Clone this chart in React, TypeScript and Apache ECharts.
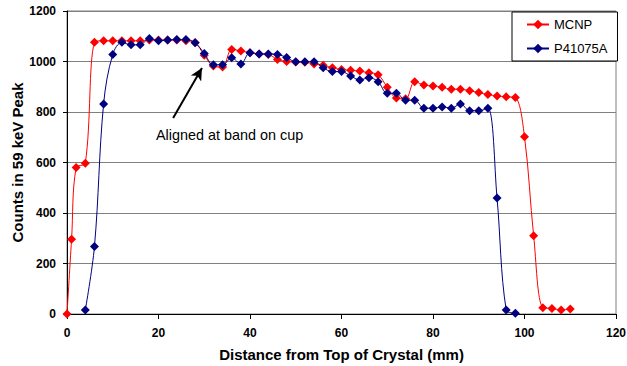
import React, { useEffect, useRef } from "react";
import * as echarts from "echarts";

const mcnpX = [0, 1, 2, 4, 6, 8, 10, 12, 14, 16, 18, 20, 22, 24, 26, 28, 30, 32, 34, 36, 38, 40, 42, 44, 46, 48, 50, 52, 54, 56, 58, 60, 62, 64, 66, 68, 70, 72, 74, 76, 78, 80, 82, 84, 86, 88, 90, 92, 94, 96, 98, 100, 102, 104, 106, 108, 110];
const mcnpY = [0, 296, 580, 597, 1076, 1082, 1082, 1082, 1082, 1082, 1085, 1085, 1085, 1085, 1082, 1075, 1025, 982, 978, 1048, 1042, 1035, 1030, 1028, 1008, 1000, 998, 997, 990, 985, 975, 968, 965, 962, 955, 948, 898, 855, 852, 920, 907, 903, 898, 890, 890, 884, 877, 869, 863, 860, 857, 702, 310, 25, 22, 16, 20];

const p41X = [4, 6, 8, 10, 12, 14, 16, 18, 20, 22, 24, 26, 28, 30, 32, 34, 36, 38, 40, 42, 44, 46, 48, 50, 52, 54, 56, 58, 60, 62, 64, 66, 68, 70, 72, 74, 76, 78, 80, 82, 84, 86, 88, 90, 92, 94, 96, 98];
const p41Y = [16, 267, 832, 1028, 1076, 1066, 1066, 1091, 1082, 1085, 1087, 1087, 1074, 1032, 987, 987, 1015, 990, 1035, 1030, 1030, 1028, 1016, 999, 999, 999, 975, 960, 960, 943, 927, 936, 920, 874, 874, 847, 847, 815, 815, 820, 815, 832, 805, 805, 815, 459, 16, 3];

const seriesNames = ["MCNP", "P41075A"];
const annotationText = "Aligned at band on cup";
const arrowFrom = [23.2, 776];
const arrowTo = [29.5, 974];

const FONT = "'Liberation Sans', Arial, sans-serif";

export default function App() {
  const ref = useRef<HTMLDivElement>(null);
  useEffect(() => {
    if (!ref.current) return;
    const chart = echarts.init(ref.current, null, { renderer: "svg" });
    chart.setOption({
      animation: false,
      backgroundColor: "#ffffff",
      textStyle: { fontFamily: FONT },
      grid: {
        left: 67,
        right: 11,
        top: 11,
        bottom: 52,
        show: true,
        borderColor: "#808080",
        borderWidth: 1,
        containLabel: false,
        outerBoundsMode: "none",
      },
      legend: {
        orient: "vertical",
        left: 512,
        top: 12,
        width: 105,
        height: 50,
        padding: [6, 10, 6, 14],
        itemGap: 11,
        itemWidth: 22,
        itemHeight: 12,
        backgroundColor: "#ffffff",
        borderColor: "#000000",
        borderWidth: 1,
        textStyle: { fontFamily: FONT, fontSize: 13, color: "#000" },
        data: seriesNames,
      },
      xAxis: {
        type: "value",
        min: 0,
        max: 120,
        interval: 20,
        name: "Distance from Top of Crystal (mm)",
        nameLocation: "middle",
        nameGap: 33,
        nameMoveOverlap: false,
        nameTextStyle: { fontFamily: FONT, fontSize: 15, fontWeight: "bold", color: "#000" },
        axisLine: { onZero: false, lineStyle: { color: "#000", width: 1 } },
        axisTick: { show: true, length: 5, lineStyle: { color: "#000" } },
        axisLabel: { fontFamily: FONT, fontSize: 12, fontWeight: "bold", color: "#000", margin: 13 },
        splitLine: { show: false },
      },
      yAxis: {
        type: "value",
        min: 0,
        max: 1200,
        interval: 200,
        name: "Counts in 59 keV Peak",
        nameLocation: "middle",
        nameGap: 42,
        nameMoveOverlap: false,
        nameTextStyle: { fontFamily: FONT, fontSize: 15, fontWeight: "bold", color: "#000" },
        axisLine: { show: true, lineStyle: { color: "#000", width: 1 } },
        axisTick: { show: true, length: 4, lineStyle: { color: "#000" } },
        axisLabel: {
          fontFamily: FONT,
          fontSize: 12,
          fontWeight: "bold",
          color: "#000",
          margin: 11,
          formatter: (v: number) => String(v),
        },
        splitLine: { show: true, lineStyle: { color: "#808080", width: 1 } },
      },
      graphic: [
        {
          type: "text",
          left: 156,
          top: 128,
          style: { text: annotationText, font: `14.4px ${FONT}`, fill: "#000" },
        },
      ],
      series: [
        {
          name: seriesNames[0],
          type: "line",
          data: mcnpX.map((x, i) => [x, mcnpY[i]]),
          smooth: 0.35,
          symbol: "diamond",
          symbolSize: 9,
          itemStyle: { color: "#FF0000" },
          lineStyle: { color: "#FF0000", width: 1 },
          z: 2,
          markLine: {
            silent: true,
            symbol: ["none", "arrow"],
            symbolSize: [9, 12],
            label: { show: false },
            lineStyle: { color: "#000", width: 2, type: "solid" },
            data: [[{ coord: arrowFrom }, { coord: arrowTo }]],
          },
        },
        {
          name: seriesNames[1],
          type: "line",
          data: p41X.map((x, i) => [x, p41Y[i]]),
          smooth: 0.35,
          symbol: "diamond",
          symbolSize: 9,
          itemStyle: { color: "#000080" },
          lineStyle: { color: "#000080", width: 1 },
          z: 3,
        },
      ],
    });
    return () => chart.dispose();
  }, []);
  return <div ref={ref} style={{ width: 627, height: 366, position: "absolute", left: 0, top: 0 }} />;
}
